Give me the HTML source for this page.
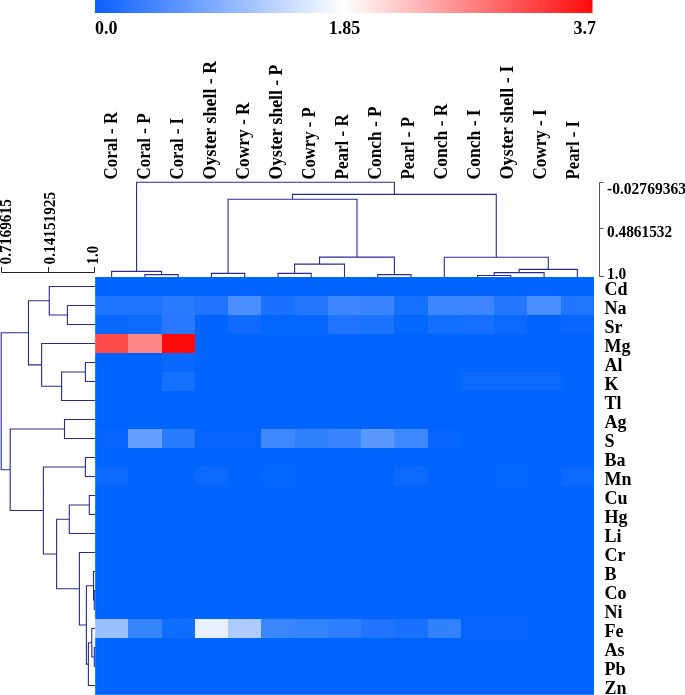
<!DOCTYPE html>
<html><head><meta charset="utf-8"><title>Heatmap</title>
<style>
html,body{margin:0;padding:0;background:#fff;}
body{width:685px;height:695px;overflow:hidden;}
svg{display:block;}
text{font-family:"Liberation Serif",serif;font-weight:bold;fill:#000;}
.t{filter:grayscale(1);}
</style></head><body>
<svg width="685" height="695" viewBox="0 0 685 695">
<defs><linearGradient id="cb" x1="0" x2="1" y1="0" y2="0">
<stop offset="0" stop-color="#0a5fff"/><stop offset="0.5" stop-color="#ffffff"/><stop offset="1" stop-color="#ff0a0a"/>
</linearGradient></defs>
<rect x="95" y="0" width="497.5" height="13" fill="url(#cb)"/>

<g shape-rendering="crispEdges">
<rect x="95" y="277" width="33" height="19" fill="#0064ff"/>
<rect x="128" y="277" width="34" height="19" fill="#0064ff"/>
<rect x="162" y="277" width="33" height="19" fill="#0064ff"/>
<rect x="195" y="277" width="33" height="19" fill="#0064ff"/>
<rect x="228" y="277" width="33" height="19" fill="#0064ff"/>
<rect x="261" y="277" width="34" height="19" fill="#0064ff"/>
<rect x="295" y="277" width="33" height="19" fill="#0064ff"/>
<rect x="328" y="277" width="33" height="19" fill="#0064ff"/>
<rect x="361" y="277" width="33" height="19" fill="#0064ff"/>
<rect x="394" y="277" width="34" height="19" fill="#0064ff"/>
<rect x="428" y="277" width="33" height="19" fill="#0064ff"/>
<rect x="461" y="277" width="33" height="19" fill="#0064ff"/>
<rect x="494" y="277" width="33" height="19" fill="#0064ff"/>
<rect x="527" y="277" width="34" height="19" fill="#0064ff"/>
<rect x="561" y="277" width="33" height="19" fill="#0064ff"/>
<rect x="95" y="296" width="33" height="19" fill="#1f74ff"/>
<rect x="128" y="296" width="34" height="19" fill="#1f74ff"/>
<rect x="162" y="296" width="33" height="19" fill="#2a7aff"/>
<rect x="195" y="296" width="33" height="19" fill="#2074ff"/>
<rect x="228" y="296" width="33" height="19" fill="#4a8eff"/>
<rect x="261" y="296" width="34" height="19" fill="#1a70ff"/>
<rect x="295" y="296" width="33" height="19" fill="#2276ff"/>
<rect x="328" y="296" width="33" height="19" fill="#3d86ff"/>
<rect x="361" y="296" width="33" height="19" fill="#3a84ff"/>
<rect x="394" y="296" width="34" height="19" fill="#1470ff"/>
<rect x="428" y="296" width="33" height="19" fill="#3d86ff"/>
<rect x="461" y="296" width="33" height="19" fill="#3d86ff"/>
<rect x="494" y="296" width="33" height="19" fill="#2478ff"/>
<rect x="527" y="296" width="34" height="19" fill="#4a8eff"/>
<rect x="561" y="296" width="33" height="19" fill="#2076ff"/>
<rect x="95" y="315" width="33" height="19" fill="#0668ff"/>
<rect x="128" y="315" width="34" height="19" fill="#0c6cff"/>
<rect x="162" y="315" width="33" height="19" fill="#2a78ff"/>
<rect x="195" y="315" width="33" height="19" fill="#0064ff"/>
<rect x="228" y="315" width="33" height="19" fill="#106aff"/>
<rect x="261" y="315" width="34" height="19" fill="#0366ff"/>
<rect x="295" y="315" width="33" height="19" fill="#0366ff"/>
<rect x="328" y="315" width="33" height="19" fill="#1e74ff"/>
<rect x="361" y="315" width="33" height="19" fill="#1a72ff"/>
<rect x="394" y="315" width="34" height="19" fill="#0468ff"/>
<rect x="428" y="315" width="33" height="19" fill="#1270ff"/>
<rect x="461" y="315" width="33" height="19" fill="#1670ff"/>
<rect x="494" y="315" width="33" height="19" fill="#0a6aff"/>
<rect x="527" y="315" width="34" height="19" fill="#0064ff"/>
<rect x="561" y="315" width="33" height="19" fill="#0668ff"/>
<rect x="95" y="334" width="33" height="19" fill="#ff4a4a"/>
<rect x="128" y="334" width="34" height="19" fill="#ff8686"/>
<rect x="162" y="334" width="33" height="19" fill="#ff0a0a"/>
<rect x="195" y="334" width="33" height="19" fill="#0064ff"/>
<rect x="228" y="334" width="33" height="19" fill="#0064ff"/>
<rect x="261" y="334" width="34" height="19" fill="#0064ff"/>
<rect x="295" y="334" width="33" height="19" fill="#0064ff"/>
<rect x="328" y="334" width="33" height="19" fill="#0064ff"/>
<rect x="361" y="334" width="33" height="19" fill="#0064ff"/>
<rect x="394" y="334" width="34" height="19" fill="#0064ff"/>
<rect x="428" y="334" width="33" height="19" fill="#0064ff"/>
<rect x="461" y="334" width="33" height="19" fill="#0064ff"/>
<rect x="494" y="334" width="33" height="19" fill="#0064ff"/>
<rect x="527" y="334" width="34" height="19" fill="#0064ff"/>
<rect x="561" y="334" width="33" height="19" fill="#0064ff"/>
<rect x="95" y="353" width="33" height="19" fill="#0064ff"/>
<rect x="128" y="353" width="34" height="19" fill="#0064ff"/>
<rect x="162" y="353" width="33" height="19" fill="#0868ff"/>
<rect x="195" y="353" width="33" height="19" fill="#0064ff"/>
<rect x="228" y="353" width="33" height="19" fill="#0064ff"/>
<rect x="261" y="353" width="34" height="19" fill="#0064ff"/>
<rect x="295" y="353" width="33" height="19" fill="#0064ff"/>
<rect x="328" y="353" width="33" height="19" fill="#0064ff"/>
<rect x="361" y="353" width="33" height="19" fill="#0064ff"/>
<rect x="394" y="353" width="34" height="19" fill="#0064ff"/>
<rect x="428" y="353" width="33" height="19" fill="#0064ff"/>
<rect x="461" y="353" width="33" height="19" fill="#0064ff"/>
<rect x="494" y="353" width="33" height="19" fill="#0064ff"/>
<rect x="527" y="353" width="34" height="19" fill="#0064ff"/>
<rect x="561" y="353" width="33" height="19" fill="#0064ff"/>
<rect x="95" y="372" width="33" height="19" fill="#0064ff"/>
<rect x="128" y="372" width="34" height="19" fill="#0064ff"/>
<rect x="162" y="372" width="33" height="19" fill="#1470ff"/>
<rect x="195" y="372" width="33" height="19" fill="#0064ff"/>
<rect x="228" y="372" width="33" height="19" fill="#0064ff"/>
<rect x="261" y="372" width="34" height="19" fill="#0064ff"/>
<rect x="295" y="372" width="33" height="19" fill="#0064ff"/>
<rect x="328" y="372" width="33" height="19" fill="#0064ff"/>
<rect x="361" y="372" width="33" height="19" fill="#0064ff"/>
<rect x="394" y="372" width="34" height="19" fill="#0064ff"/>
<rect x="428" y="372" width="33" height="19" fill="#0064ff"/>
<rect x="461" y="372" width="33" height="19" fill="#0a6aff"/>
<rect x="494" y="372" width="33" height="19" fill="#0a6aff"/>
<rect x="527" y="372" width="34" height="19" fill="#0a6aff"/>
<rect x="561" y="372" width="33" height="19" fill="#0064ff"/>
<rect x="95" y="391" width="33" height="19" fill="#0064ff"/>
<rect x="128" y="391" width="34" height="19" fill="#0064ff"/>
<rect x="162" y="391" width="33" height="19" fill="#0064ff"/>
<rect x="195" y="391" width="33" height="19" fill="#0064ff"/>
<rect x="228" y="391" width="33" height="19" fill="#0064ff"/>
<rect x="261" y="391" width="34" height="19" fill="#0064ff"/>
<rect x="295" y="391" width="33" height="19" fill="#0064ff"/>
<rect x="328" y="391" width="33" height="19" fill="#0064ff"/>
<rect x="361" y="391" width="33" height="19" fill="#0064ff"/>
<rect x="394" y="391" width="34" height="19" fill="#0064ff"/>
<rect x="428" y="391" width="33" height="19" fill="#0064ff"/>
<rect x="461" y="391" width="33" height="19" fill="#0064ff"/>
<rect x="494" y="391" width="33" height="19" fill="#0064ff"/>
<rect x="527" y="391" width="34" height="19" fill="#0064ff"/>
<rect x="561" y="391" width="33" height="19" fill="#0064ff"/>
<rect x="95" y="410" width="33" height="19" fill="#0064ff"/>
<rect x="128" y="410" width="34" height="19" fill="#0064ff"/>
<rect x="162" y="410" width="33" height="19" fill="#0064ff"/>
<rect x="195" y="410" width="33" height="19" fill="#0064ff"/>
<rect x="228" y="410" width="33" height="19" fill="#0064ff"/>
<rect x="261" y="410" width="34" height="19" fill="#0064ff"/>
<rect x="295" y="410" width="33" height="19" fill="#0064ff"/>
<rect x="328" y="410" width="33" height="19" fill="#0064ff"/>
<rect x="361" y="410" width="33" height="19" fill="#0064ff"/>
<rect x="394" y="410" width="34" height="19" fill="#0064ff"/>
<rect x="428" y="410" width="33" height="19" fill="#0064ff"/>
<rect x="461" y="410" width="33" height="19" fill="#0064ff"/>
<rect x="494" y="410" width="33" height="19" fill="#0064ff"/>
<rect x="527" y="410" width="34" height="19" fill="#0064ff"/>
<rect x="561" y="410" width="33" height="19" fill="#0064ff"/>
<rect x="95" y="429" width="33" height="19" fill="#0566ff"/>
<rect x="128" y="429" width="34" height="19" fill="#66a0ff"/>
<rect x="162" y="429" width="33" height="19" fill="#2a7cff"/>
<rect x="195" y="429" width="33" height="19" fill="#0364ff"/>
<rect x="228" y="429" width="33" height="19" fill="#0364ff"/>
<rect x="261" y="429" width="34" height="19" fill="#4088ff"/>
<rect x="295" y="429" width="33" height="19" fill="#3080ff"/>
<rect x="328" y="429" width="33" height="19" fill="#3a84ff"/>
<rect x="361" y="429" width="33" height="19" fill="#5898ff"/>
<rect x="394" y="429" width="34" height="19" fill="#3e88ff"/>
<rect x="428" y="429" width="33" height="19" fill="#0566ff"/>
<rect x="461" y="429" width="33" height="19" fill="#0064ff"/>
<rect x="494" y="429" width="33" height="19" fill="#0064ff"/>
<rect x="527" y="429" width="34" height="19" fill="#0064ff"/>
<rect x="561" y="429" width="33" height="19" fill="#0064ff"/>
<rect x="95" y="448" width="33" height="19" fill="#0064ff"/>
<rect x="128" y="448" width="34" height="19" fill="#0064ff"/>
<rect x="162" y="448" width="33" height="19" fill="#0064ff"/>
<rect x="195" y="448" width="33" height="19" fill="#0064ff"/>
<rect x="228" y="448" width="33" height="19" fill="#0064ff"/>
<rect x="261" y="448" width="34" height="19" fill="#0064ff"/>
<rect x="295" y="448" width="33" height="19" fill="#0064ff"/>
<rect x="328" y="448" width="33" height="19" fill="#0064ff"/>
<rect x="361" y="448" width="33" height="19" fill="#0064ff"/>
<rect x="394" y="448" width="34" height="19" fill="#0064ff"/>
<rect x="428" y="448" width="33" height="19" fill="#0064ff"/>
<rect x="461" y="448" width="33" height="19" fill="#0064ff"/>
<rect x="494" y="448" width="33" height="19" fill="#0064ff"/>
<rect x="527" y="448" width="34" height="19" fill="#0064ff"/>
<rect x="561" y="448" width="33" height="19" fill="#0064ff"/>
<rect x="95" y="467" width="33" height="19" fill="#0a6aff"/>
<rect x="128" y="467" width="34" height="19" fill="#0064ff"/>
<rect x="162" y="467" width="33" height="19" fill="#0064ff"/>
<rect x="195" y="467" width="33" height="19" fill="#0a6aff"/>
<rect x="228" y="467" width="33" height="19" fill="#0064ff"/>
<rect x="261" y="467" width="34" height="19" fill="#0266ff"/>
<rect x="295" y="467" width="33" height="19" fill="#0064ff"/>
<rect x="328" y="467" width="33" height="19" fill="#0064ff"/>
<rect x="361" y="467" width="33" height="19" fill="#0064ff"/>
<rect x="394" y="467" width="34" height="19" fill="#0a6aff"/>
<rect x="428" y="467" width="33" height="19" fill="#0064ff"/>
<rect x="461" y="467" width="33" height="19" fill="#0064ff"/>
<rect x="494" y="467" width="33" height="19" fill="#0266ff"/>
<rect x="527" y="467" width="34" height="19" fill="#0064ff"/>
<rect x="561" y="467" width="33" height="19" fill="#0a6aff"/>
<rect x="95" y="486" width="33" height="19" fill="#0064ff"/>
<rect x="128" y="486" width="34" height="19" fill="#0064ff"/>
<rect x="162" y="486" width="33" height="19" fill="#0064ff"/>
<rect x="195" y="486" width="33" height="19" fill="#0064ff"/>
<rect x="228" y="486" width="33" height="19" fill="#0064ff"/>
<rect x="261" y="486" width="34" height="19" fill="#0064ff"/>
<rect x="295" y="486" width="33" height="19" fill="#0064ff"/>
<rect x="328" y="486" width="33" height="19" fill="#0064ff"/>
<rect x="361" y="486" width="33" height="19" fill="#0064ff"/>
<rect x="394" y="486" width="34" height="19" fill="#0064ff"/>
<rect x="428" y="486" width="33" height="19" fill="#0064ff"/>
<rect x="461" y="486" width="33" height="19" fill="#0064ff"/>
<rect x="494" y="486" width="33" height="19" fill="#0064ff"/>
<rect x="527" y="486" width="34" height="19" fill="#0064ff"/>
<rect x="561" y="486" width="33" height="19" fill="#0064ff"/>
<rect x="95" y="505" width="33" height="19" fill="#0064ff"/>
<rect x="128" y="505" width="34" height="19" fill="#0064ff"/>
<rect x="162" y="505" width="33" height="19" fill="#0064ff"/>
<rect x="195" y="505" width="33" height="19" fill="#0064ff"/>
<rect x="228" y="505" width="33" height="19" fill="#0064ff"/>
<rect x="261" y="505" width="34" height="19" fill="#0064ff"/>
<rect x="295" y="505" width="33" height="19" fill="#0064ff"/>
<rect x="328" y="505" width="33" height="19" fill="#0064ff"/>
<rect x="361" y="505" width="33" height="19" fill="#0064ff"/>
<rect x="394" y="505" width="34" height="19" fill="#0064ff"/>
<rect x="428" y="505" width="33" height="19" fill="#0064ff"/>
<rect x="461" y="505" width="33" height="19" fill="#0064ff"/>
<rect x="494" y="505" width="33" height="19" fill="#0064ff"/>
<rect x="527" y="505" width="34" height="19" fill="#0064ff"/>
<rect x="561" y="505" width="33" height="19" fill="#0064ff"/>
<rect x="95" y="524" width="33" height="19" fill="#0064ff"/>
<rect x="128" y="524" width="34" height="19" fill="#0064ff"/>
<rect x="162" y="524" width="33" height="19" fill="#0064ff"/>
<rect x="195" y="524" width="33" height="19" fill="#0064ff"/>
<rect x="228" y="524" width="33" height="19" fill="#0064ff"/>
<rect x="261" y="524" width="34" height="19" fill="#0064ff"/>
<rect x="295" y="524" width="33" height="19" fill="#0064ff"/>
<rect x="328" y="524" width="33" height="19" fill="#0064ff"/>
<rect x="361" y="524" width="33" height="19" fill="#0064ff"/>
<rect x="394" y="524" width="34" height="19" fill="#0064ff"/>
<rect x="428" y="524" width="33" height="19" fill="#0064ff"/>
<rect x="461" y="524" width="33" height="19" fill="#0064ff"/>
<rect x="494" y="524" width="33" height="19" fill="#0064ff"/>
<rect x="527" y="524" width="34" height="19" fill="#0064ff"/>
<rect x="561" y="524" width="33" height="19" fill="#0064ff"/>
<rect x="95" y="543" width="33" height="19" fill="#0064ff"/>
<rect x="128" y="543" width="34" height="19" fill="#0064ff"/>
<rect x="162" y="543" width="33" height="19" fill="#0064ff"/>
<rect x="195" y="543" width="33" height="19" fill="#0064ff"/>
<rect x="228" y="543" width="33" height="19" fill="#0064ff"/>
<rect x="261" y="543" width="34" height="19" fill="#0064ff"/>
<rect x="295" y="543" width="33" height="19" fill="#0064ff"/>
<rect x="328" y="543" width="33" height="19" fill="#0064ff"/>
<rect x="361" y="543" width="33" height="19" fill="#0064ff"/>
<rect x="394" y="543" width="34" height="19" fill="#0064ff"/>
<rect x="428" y="543" width="33" height="19" fill="#0064ff"/>
<rect x="461" y="543" width="33" height="19" fill="#0064ff"/>
<rect x="494" y="543" width="33" height="19" fill="#0064ff"/>
<rect x="527" y="543" width="34" height="19" fill="#0064ff"/>
<rect x="561" y="543" width="33" height="19" fill="#0064ff"/>
<rect x="95" y="562" width="33" height="19" fill="#0064ff"/>
<rect x="128" y="562" width="34" height="19" fill="#0064ff"/>
<rect x="162" y="562" width="33" height="19" fill="#0064ff"/>
<rect x="195" y="562" width="33" height="19" fill="#0064ff"/>
<rect x="228" y="562" width="33" height="19" fill="#0064ff"/>
<rect x="261" y="562" width="34" height="19" fill="#0064ff"/>
<rect x="295" y="562" width="33" height="19" fill="#0064ff"/>
<rect x="328" y="562" width="33" height="19" fill="#0064ff"/>
<rect x="361" y="562" width="33" height="19" fill="#0064ff"/>
<rect x="394" y="562" width="34" height="19" fill="#0064ff"/>
<rect x="428" y="562" width="33" height="19" fill="#0064ff"/>
<rect x="461" y="562" width="33" height="19" fill="#0064ff"/>
<rect x="494" y="562" width="33" height="19" fill="#0064ff"/>
<rect x="527" y="562" width="34" height="19" fill="#0064ff"/>
<rect x="561" y="562" width="33" height="19" fill="#0064ff"/>
<rect x="95" y="581" width="33" height="19" fill="#0064ff"/>
<rect x="128" y="581" width="34" height="19" fill="#0064ff"/>
<rect x="162" y="581" width="33" height="19" fill="#0064ff"/>
<rect x="195" y="581" width="33" height="19" fill="#0064ff"/>
<rect x="228" y="581" width="33" height="19" fill="#0064ff"/>
<rect x="261" y="581" width="34" height="19" fill="#0064ff"/>
<rect x="295" y="581" width="33" height="19" fill="#0064ff"/>
<rect x="328" y="581" width="33" height="19" fill="#0064ff"/>
<rect x="361" y="581" width="33" height="19" fill="#0064ff"/>
<rect x="394" y="581" width="34" height="19" fill="#0064ff"/>
<rect x="428" y="581" width="33" height="19" fill="#0064ff"/>
<rect x="461" y="581" width="33" height="19" fill="#0064ff"/>
<rect x="494" y="581" width="33" height="19" fill="#0064ff"/>
<rect x="527" y="581" width="34" height="19" fill="#0064ff"/>
<rect x="561" y="581" width="33" height="19" fill="#0064ff"/>
<rect x="95" y="600" width="33" height="19" fill="#0064ff"/>
<rect x="128" y="600" width="34" height="19" fill="#0064ff"/>
<rect x="162" y="600" width="33" height="19" fill="#0064ff"/>
<rect x="195" y="600" width="33" height="19" fill="#0064ff"/>
<rect x="228" y="600" width="33" height="19" fill="#0064ff"/>
<rect x="261" y="600" width="34" height="19" fill="#0064ff"/>
<rect x="295" y="600" width="33" height="19" fill="#0064ff"/>
<rect x="328" y="600" width="33" height="19" fill="#0064ff"/>
<rect x="361" y="600" width="33" height="19" fill="#0064ff"/>
<rect x="394" y="600" width="34" height="19" fill="#0064ff"/>
<rect x="428" y="600" width="33" height="19" fill="#0064ff"/>
<rect x="461" y="600" width="33" height="19" fill="#0064ff"/>
<rect x="494" y="600" width="33" height="19" fill="#0064ff"/>
<rect x="527" y="600" width="34" height="19" fill="#0064ff"/>
<rect x="561" y="600" width="33" height="19" fill="#0064ff"/>
<rect x="95" y="619" width="33" height="19" fill="#9ac0ff"/>
<rect x="128" y="619" width="34" height="19" fill="#3784ff"/>
<rect x="162" y="619" width="33" height="19" fill="#0e6eff"/>
<rect x="195" y="619" width="33" height="19" fill="#e8f0ff"/>
<rect x="228" y="619" width="33" height="19" fill="#aecbff"/>
<rect x="261" y="619" width="34" height="19" fill="#3a86ff"/>
<rect x="295" y="619" width="33" height="19" fill="#3484ff"/>
<rect x="328" y="619" width="33" height="19" fill="#2e7eff"/>
<rect x="361" y="619" width="33" height="19" fill="#2274ff"/>
<rect x="394" y="619" width="34" height="19" fill="#1a70ff"/>
<rect x="428" y="619" width="33" height="19" fill="#3282ff"/>
<rect x="461" y="619" width="33" height="19" fill="#0466ff"/>
<rect x="494" y="619" width="33" height="19" fill="#0466ff"/>
<rect x="527" y="619" width="34" height="19" fill="#0064ff"/>
<rect x="561" y="619" width="33" height="19" fill="#0064ff"/>
<rect x="95" y="638" width="33" height="19" fill="#0064ff"/>
<rect x="128" y="638" width="34" height="19" fill="#0064ff"/>
<rect x="162" y="638" width="33" height="19" fill="#0064ff"/>
<rect x="195" y="638" width="33" height="19" fill="#0064ff"/>
<rect x="228" y="638" width="33" height="19" fill="#0064ff"/>
<rect x="261" y="638" width="34" height="19" fill="#0064ff"/>
<rect x="295" y="638" width="33" height="19" fill="#0064ff"/>
<rect x="328" y="638" width="33" height="19" fill="#0064ff"/>
<rect x="361" y="638" width="33" height="19" fill="#0064ff"/>
<rect x="394" y="638" width="34" height="19" fill="#0064ff"/>
<rect x="428" y="638" width="33" height="19" fill="#0064ff"/>
<rect x="461" y="638" width="33" height="19" fill="#0064ff"/>
<rect x="494" y="638" width="33" height="19" fill="#0064ff"/>
<rect x="527" y="638" width="34" height="19" fill="#0064ff"/>
<rect x="561" y="638" width="33" height="19" fill="#0064ff"/>
<rect x="95" y="657" width="33" height="19" fill="#0064ff"/>
<rect x="128" y="657" width="34" height="19" fill="#0064ff"/>
<rect x="162" y="657" width="33" height="19" fill="#0064ff"/>
<rect x="195" y="657" width="33" height="19" fill="#0064ff"/>
<rect x="228" y="657" width="33" height="19" fill="#0064ff"/>
<rect x="261" y="657" width="34" height="19" fill="#0064ff"/>
<rect x="295" y="657" width="33" height="19" fill="#0064ff"/>
<rect x="328" y="657" width="33" height="19" fill="#0064ff"/>
<rect x="361" y="657" width="33" height="19" fill="#0064ff"/>
<rect x="394" y="657" width="34" height="19" fill="#0064ff"/>
<rect x="428" y="657" width="33" height="19" fill="#0064ff"/>
<rect x="461" y="657" width="33" height="19" fill="#0064ff"/>
<rect x="494" y="657" width="33" height="19" fill="#0064ff"/>
<rect x="527" y="657" width="34" height="19" fill="#0064ff"/>
<rect x="561" y="657" width="33" height="19" fill="#0064ff"/>
<rect x="95" y="676" width="33" height="19" fill="#0064ff"/>
<rect x="128" y="676" width="34" height="19" fill="#0064ff"/>
<rect x="162" y="676" width="33" height="19" fill="#0064ff"/>
<rect x="195" y="676" width="33" height="19" fill="#0064ff"/>
<rect x="228" y="676" width="33" height="19" fill="#0064ff"/>
<rect x="261" y="676" width="34" height="19" fill="#0064ff"/>
<rect x="295" y="676" width="33" height="19" fill="#0064ff"/>
<rect x="328" y="676" width="33" height="19" fill="#0064ff"/>
<rect x="361" y="676" width="33" height="19" fill="#0064ff"/>
<rect x="394" y="676" width="34" height="19" fill="#0064ff"/>
<rect x="428" y="676" width="33" height="19" fill="#0064ff"/>
<rect x="461" y="676" width="33" height="19" fill="#0064ff"/>
<rect x="494" y="676" width="33" height="19" fill="#0064ff"/>
<rect x="527" y="676" width="34" height="19" fill="#0064ff"/>
<rect x="561" y="676" width="33" height="19" fill="#0064ff"/>
</g>
<rect x="95" y="694" width="499" height="1" fill="#fff" fill-opacity="0.2"/>
<rect x="95" y="277" width="1" height="418" fill="#fff" fill-opacity="0.15"/>
<path fill="none" stroke="#2a2a96" stroke-width="1.1" d="M144.9 277.0V274.6H178.17V277.0M111.63 277.0V271.4H161.53V274.6M211.43 277.0V273.4H244.7V277.0M277.97 277.0V273.4H311.23V277.0M294.6 273.4V264.1H344.5V277.0M377.77 277.0V274.6H411.03V277.0M319.55 264.1V257.1H394.4V274.6M228.07 273.4V199.3H356.98V257.1M477.57 277.0V275.5H510.83V277.0M494.2 275.5V272.6H544.1V277.0M519.15 272.6V269.4H577.37V277.0M444.3 277.0V257.3H548.26V269.4M292.52 199.3V194.4H496.28V257.3M136.58 271.4V182.3H394.4V194.4"/>
<path fill="none" stroke="#2a2a96" stroke-width="1.1" d="M95.0 305.5H67.4V324.5H95.0M95.0 286.5H49.3V315.0H67.4M95.0 362.5H85.4V381.5H95.0M85.4 372.0H61.6V400.5H95.0M95.0 343.5H41.6V386.25H61.6M49.3 300.75H28.5V364.88H41.6M95.0 419.5H64.5V438.5H95.0M95.0 457.5H85.4V476.5H95.0M95.0 495.5H89.3V514.5H95.0M89.3 505.0H69.3V533.5H95.0M95.0 590.5H94.3V609.5H95.0M95.0 571.5H93.5V600.0H94.3M95.0 647.5H94.3V666.5H95.0M95.0 628.5H91.8V657.0H94.3M91.8 642.75H88.4V685.5H95.0M93.5 585.75H86.4V664.12H88.4M95.0 552.5H79.4V624.94H86.4M69.3 519.25H56.6V588.72H79.4M85.4 467.0H43.4V553.98H56.6M64.5 429.0H10.2V510.49H43.4M28.5 332.81H1.2V469.75H10.2"/>
<path fill="none" stroke="#555" stroke-width="1" d="M603.5 182.5H599.5V276.5H604M599.5 228.5H603.5"/>
<path fill="none" stroke="#222" stroke-width="1" d="M1.5 267V272.5H94.5V267M48.5 267V272"/>
<g class="t">
<text x="95" y="33.5" font-size="18">0.0</text>
<text x="344.5" y="33.5" font-size="18" text-anchor="middle">1.85</text>
<text x="596" y="33.5" font-size="18" text-anchor="end">3.7</text>
<text x="607" y="194" font-size="16" textLength="79" lengthAdjust="spacingAndGlyphs">-0.02769363</text>
<text x="607" y="236.8" font-size="16" textLength="65.2" lengthAdjust="spacingAndGlyphs">0.4861532</text>
<text x="607" y="278.6" font-size="16" textLength="19.2" lengthAdjust="spacingAndGlyphs">1.0</text>
<text transform="translate(10.9 264.4) rotate(-90)" font-size="16" textLength="65.3" lengthAdjust="spacingAndGlyphs">0.7169615</text>
<text transform="translate(54.5 264.4) rotate(-90)" font-size="16" textLength="72.5" lengthAdjust="spacingAndGlyphs">0.14151925</text>
<text transform="translate(97.7 264.4) rotate(-90)" font-size="16" textLength="18.5" lengthAdjust="spacingAndGlyphs">1.0</text>
<text transform="translate(116.9 179.5) rotate(-90)" font-size="18" textLength="67.7" lengthAdjust="spacingAndGlyphs">Coral - R</text>
<text transform="translate(149.9 179.5) rotate(-90)" font-size="18" textLength="66" lengthAdjust="spacingAndGlyphs">Coral - P</text>
<text transform="translate(182.8 179.5) rotate(-90)" font-size="18" textLength="61.6" lengthAdjust="spacingAndGlyphs">Coral - I</text>
<text transform="translate(215.8 179.5) rotate(-90)" font-size="18" textLength="118.8" lengthAdjust="spacingAndGlyphs">Oyster shell - R</text>
<text transform="translate(248.8 179.5) rotate(-90)" font-size="18" textLength="77" lengthAdjust="spacingAndGlyphs">Cowry - R</text>
<text transform="translate(281.8 179.5) rotate(-90)" font-size="18" textLength="114.9" lengthAdjust="spacingAndGlyphs">Oyster shell - P</text>
<text transform="translate(314.7 179.5) rotate(-90)" font-size="18" textLength="72.1" lengthAdjust="spacingAndGlyphs">Cowry - P</text>
<text transform="translate(347.7 179.5) rotate(-90)" font-size="18" textLength="65.3" lengthAdjust="spacingAndGlyphs">Pearl - R</text>
<text transform="translate(380.7 179.5) rotate(-90)" font-size="18" textLength="73.1" lengthAdjust="spacingAndGlyphs">Conch - P</text>
<text transform="translate(413.6 179.5) rotate(-90)" font-size="18" textLength="62.4" lengthAdjust="spacingAndGlyphs">Pearl - P</text>
<text transform="translate(446.6 179.5) rotate(-90)" font-size="18" textLength="76" lengthAdjust="spacingAndGlyphs">Conch - R</text>
<text transform="translate(479.6 179.5) rotate(-90)" font-size="18" textLength="70.2" lengthAdjust="spacingAndGlyphs">Conch - I</text>
<text transform="translate(512.5 179.5) rotate(-90)" font-size="18" textLength="113.9" lengthAdjust="spacingAndGlyphs">Oyster shell - I</text>
<text transform="translate(545.5 179.5) rotate(-90)" font-size="18" textLength="70.2" lengthAdjust="spacingAndGlyphs">Cowry - I</text>
<text transform="translate(578.5 179.5) rotate(-90)" font-size="18" textLength="58.6" lengthAdjust="spacingAndGlyphs">Pearl - I</text>
<text x="604.5" y="294.5" font-size="18">Cd</text>
<text x="604.5" y="313.5" font-size="18">Na</text>
<text x="604.5" y="332.5" font-size="18">Sr</text>
<text x="604.5" y="351.5" font-size="18">Mg</text>
<text x="604.5" y="370.5" font-size="18">Al</text>
<text x="604.5" y="389.5" font-size="18">K</text>
<text x="604.5" y="408.5" font-size="18">Tl</text>
<text x="604.5" y="427.5" font-size="18">Ag</text>
<text x="604.5" y="446.5" font-size="18">S</text>
<text x="604.5" y="465.5" font-size="18">Ba</text>
<text x="604.5" y="484.5" font-size="18">Mn</text>
<text x="604.5" y="503.5" font-size="18">Cu</text>
<text x="604.5" y="522.5" font-size="18">Hg</text>
<text x="604.5" y="541.5" font-size="18">Li</text>
<text x="604.5" y="560.5" font-size="18">Cr</text>
<text x="604.5" y="579.5" font-size="18">B</text>
<text x="604.5" y="598.5" font-size="18">Co</text>
<text x="604.5" y="617.5" font-size="18">Ni</text>
<text x="604.5" y="636.5" font-size="18">Fe</text>
<text x="604.5" y="655.5" font-size="18">As</text>
<text x="604.5" y="674.5" font-size="18">Pb</text>
<text x="604.5" y="693.5" font-size="18">Zn</text>
</g>
</svg></body></html>
